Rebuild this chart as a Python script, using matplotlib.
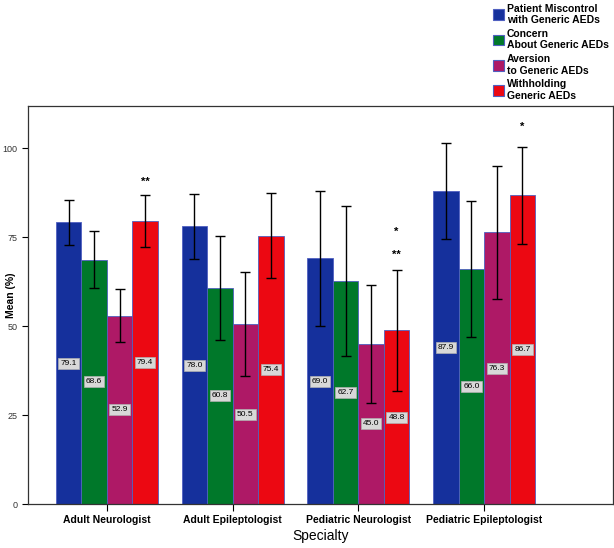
import matplotlib.pyplot as plt
import numpy as np
from matplotlib.patches import Patch

plt.rcParams['font.family'] = ['Liberation Sans', 'DejaVu Sans']

specialties = ["Adult Neurologist", "Adult Epileptologist",
               "Pediatric Neurologist", "Pediatric Epileptologist"]
series = ["Patient Miscontrol\nwith Generic AEDs", "Concern\nAbout Generic AEDs",
          "Aversion\nto Generic AEDs", "Withholding\nGeneric AEDs"]
colors = ["#15309c", "#00782a", "#ae1966", "#ec0812"]

# mean values per series (rows) and specialty (columns)
means = np.array([
    [79.1, 78.0, 69.0, 87.9],
    [68.6, 60.8, 62.7, 66.0],
    [52.9, 50.5, 45.0, 76.3],
    [79.4, 75.4, 48.8, 86.7],
])
# half-width of the error bars
errors = np.array([
    [6.4, 9.2, 19.0, 13.6],
    [8.0, 14.6, 21.0, 19.0],
    [7.4, 14.6, 16.6, 18.7],
    [7.3, 12.0, 17.0, 13.7],
])
# significance marks: (specialty index, series index, text, y)
stars = [(0, 3, "**", 90.5), (2, 3, "**", 70.0), (2, 3, "*", 76.5), (3, 3, "*", 106.0)]

fig = plt.figure(figsize=(6.14, 5.48), dpi=100)
ax = fig.add_axes([28 / 614, 1 - 504 / 548, 585 / 614, 398 / 548])

x = np.arange(len(specialties))
width = 0.2025
for i, (name, col) in enumerate(zip(series, colors)):
    pos = x + (i - 1.5) * width
    ax.bar(pos, means[i], width, color=col, edgecolor="#5060c0", linewidth=0.6, zorder=2)
    ax.errorbar(pos, means[i], yerr=errors[i], fmt="none", ecolor="black",
                elinewidth=1.0, capsize=3.5, capthick=1.0, zorder=3)
    for p, m in zip(pos, means[i]):
        ax.text(p, m / 2, f"{m:.1f}", ha="center", va="center", fontsize=6,
                bbox=dict(boxstyle="square,pad=0.25", fc="#d8d8d8", ec="#b0b0b0", lw=0.5),
                zorder=4)

for g, s, txt, yv in stars:
    ax.text(x[g] + (s - 1.5) * width, yv, txt, ha="center", va="center", fontsize=8,
            fontweight="bold")

ax.set_xlim(-0.627, 4.024)
ax.set_ylim(0, 111.8)
ax.set_yticks([0, 25, 50, 75, 100])
ax.set_xticks(x)
ax.set_xticklabels(specialties, fontsize=7.5, fontweight="bold")
ax.tick_params(axis="y", labelsize=6.5, labelcolor="#333333", length=4, width=0.8)
ax.tick_params(axis="x", length=5, width=0.8, pad=3)
ax.set_ylabel("Mean (%)", fontsize=7.5, fontweight="bold")
ax.yaxis.set_label_coords(-0.02, 0.525)
ax.set_xlabel("Specialty", fontsize=10, labelpad=3)
for sp in ax.spines.values():
    sp.set_linewidth(0.9)
    sp.set_color("#333333")

handles = [Patch(facecolor=c, edgecolor="#5060c0", linewidth=0.8) for c in colors]
fig.legend(handles, series, loc="upper left", bbox_to_anchor=(487 / 614, 1.005),
           frameon=False, prop=dict(size=7.5, weight="bold"), handlelength=1.0,
           handleheight=1.2, handletextpad=0.3, labelspacing=0.35, borderpad=0.1)

fig.savefig("out.png", dpi=100)
